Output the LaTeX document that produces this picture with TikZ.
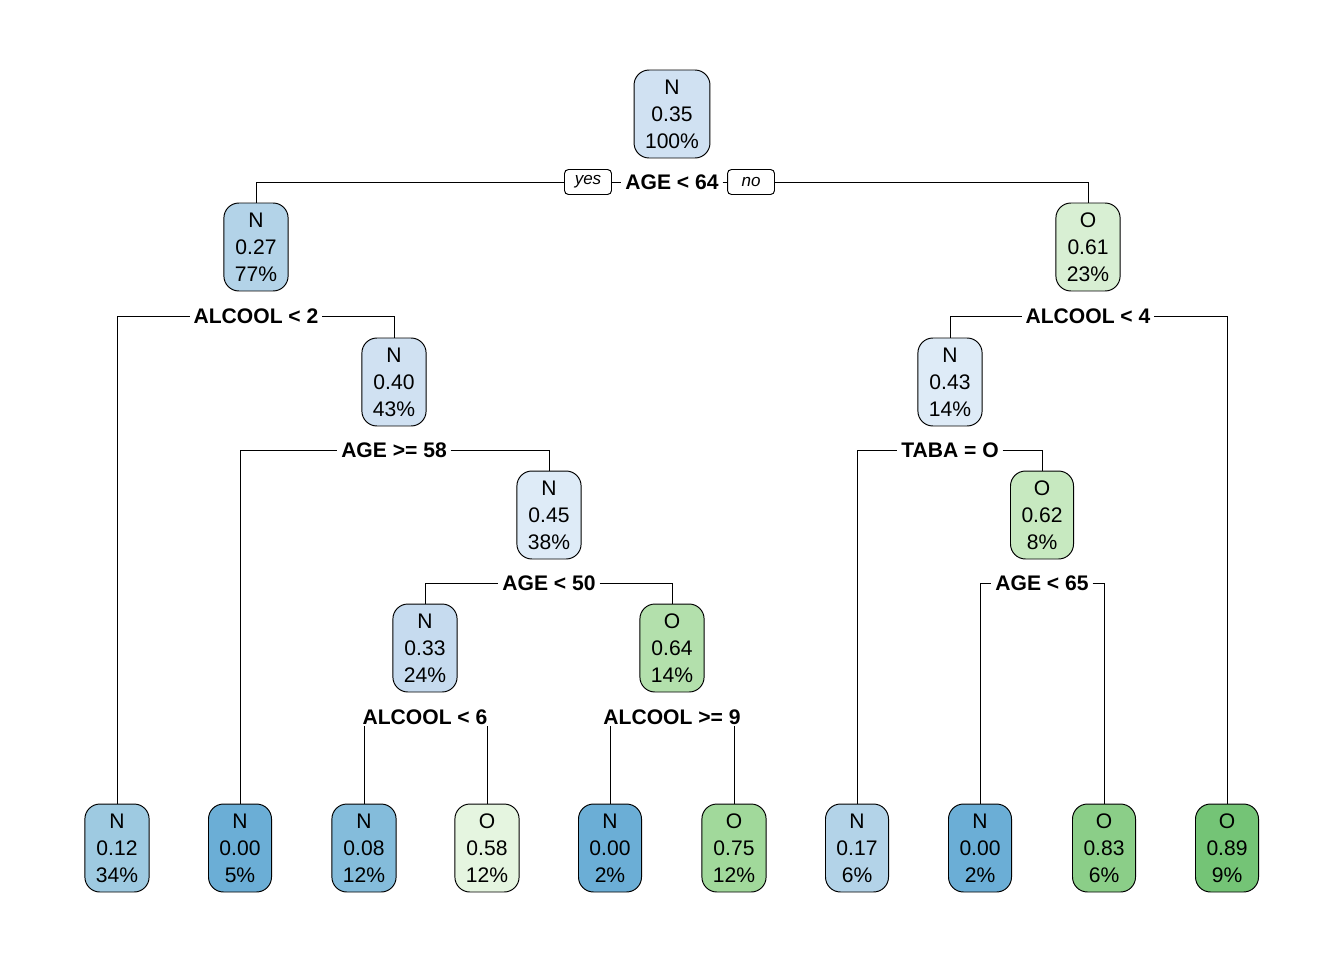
\documentclass[tikz,border=0pt]{standalone}
\usepackage{fontspec}
\setmainfont{Liberation Sans}
\usepackage{xcolor}

% Node fills (blue = N, green = O)
\definecolor{bA}{HTML}{6BAED6}
\definecolor{bB}{HTML}{84BCDB}
\definecolor{bC}{HTML}{9ECAE1}
\definecolor{bD}{HTML}{B3D3E8}
\definecolor{bE}{HTML}{C6DBEF}
\definecolor{bF}{HTML}{D0E1F2}
\definecolor{bG}{HTML}{DEEBF7}
\definecolor{gA}{HTML}{E5F5E0}
\definecolor{gB}{HTML}{D8EFD3}
\definecolor{gC}{HTML}{C7E9C0}
\definecolor{gD}{HTML}{B3E0AC}
\definecolor{gE}{HTML}{A1D99B}
\definecolor{gF}{HTML}{8BCE88}
\definecolor{gG}{HTML}{74C476}

\tikzset{
  tnode/.style={draw, fill=#1, rounded corners=0.3cm, align=center,
    minimum width=1.24cm, minimum height=1.76cm, inner xsep=0.22cm, inner ysep=0.04cm,
    font=\fontsize{12}{15.3}\selectfont},
  split/.style={font=\bfseries\fontsize{12}{14}\selectfont, inner xsep=0.07cm, inner ysep=0.02cm},
  yesno/.style={draw, rounded corners=0.08cm, font=\itshape\fontsize{9.7}{11}\selectfont,
    minimum width=0.94cm, minimum height=0.5cm, inner sep=0pt}
}

\begin{document}
\begin{tikzpicture}[x=0.02cm, y=-0.02cm, line width=0.55pt]
    \useasboundingbox (0,0) rectangle (1344,960);

    % Inner nodes
    \node[tnode=bF] (n1) at (672,114) {N\\0.35\\100\%};
    \node[tnode=bD] (n2) at (256,247) {N\\0.27\\77\%};
    \node[tnode=gB] (n3) at (1088,247) {O\\0.61\\23\%};
    \node[tnode=bF] (n5) at (394,382) {N\\0.40\\43\%};
    \node[tnode=bG] (n6) at (950,382) {N\\0.43\\14\%};
    \node[tnode=bG] (n11) at (549,515) {N\\0.45\\38\%};
    \node[tnode=gC] (n13) at (1042,515) {O\\0.62\\8\%};
    \node[tnode=bE] (n22) at (425,648) {N\\0.33\\24\%};
    \node[tnode=gD] (n23) at (672,648) {O\\0.64\\14\%};

    % Leaves
    \node[tnode=bC] (l1) at (117,848) {N\\0.12\\34\%};
    \node[tnode=bA] (l2) at (240,848) {N\\0.00\\5\%};
    \node[tnode=bB] (l3) at (364,848) {N\\0.08\\12\%};
    \node[tnode=gA] (l4) at (487,848) {O\\0.58\\12\%};
    \node[tnode=bA] (l5) at (610,848) {N\\0.00\\2\%};
    \node[tnode=gE] (l6) at (734,848) {O\\0.75\\12\%};
    \node[tnode=bD] (l7) at (857,848) {N\\0.17\\6\%};
    \node[tnode=bA] (l8) at (980,848) {N\\0.00\\2\%};
    \node[tnode=gF] (l9) at (1104,848) {O\\0.83\\6\%};
    \node[tnode=gG] (l10) at (1227,848) {O\\0.89\\9\%};

    % Split labels
    \node[split] (s1) at (672,182) {AGE < 64};
    \node[yesno] (yes) at (588,182) {yes};
    \node[yesno] (no) at (751,182) {no};
    \node[split] (s2) at (256,316) {ALCOOL < 2};
    \node[split] (s3) at (1088,316) {ALCOOL < 4};
    \node[split] (s5) at (394,450) {AGE >= 58};
    \node[split] (s6) at (950,450) {TABA = O};
    \node[split] (s11) at (549,583) {AGE < 50};
    \node[split] (s13) at (1042,583) {AGE < 65};
    \node[split] (s22) at (425,717) {ALCOOL < 6};
    \node[split] (s23) at (672,717) {ALCOOL >= 9};

    % Branches
    \draw (n2.north) |- (yes.west);
    \draw (yes.east) -- (s1.west);
    \draw (s1.east) -- (no.west);
    \draw (no.east) -| (n3.north);

    \draw (l1.north) |- (s2.west);
    \draw (s2.east) -| (n5.north);
    \draw (n6.north) |- (s3.west);
    \draw (s3.east) -| (l10.north);

    \draw (l2.north) |- (s5.west);
    \draw (s5.east) -| (n11.north);
    \draw (l7.north) |- (s6.west);
    \draw (s6.east) -| (n13.north);

    \draw (n22.north) |- (s11.west);
    \draw (s11.east) -| (n23.north);
    \draw (l8.north) |- (s13.west);
    \draw (s13.east) -| (l9.north);

    \draw (l3.north) -- (l3.north |- s22.south);
    \draw (l4.north) -- (l4.north |- s22.south);
    \draw (l5.north) -- (l5.north |- s23.south);
    \draw (l6.north) -- (l6.north |- s23.south);
\end{tikzpicture}
\end{document}
